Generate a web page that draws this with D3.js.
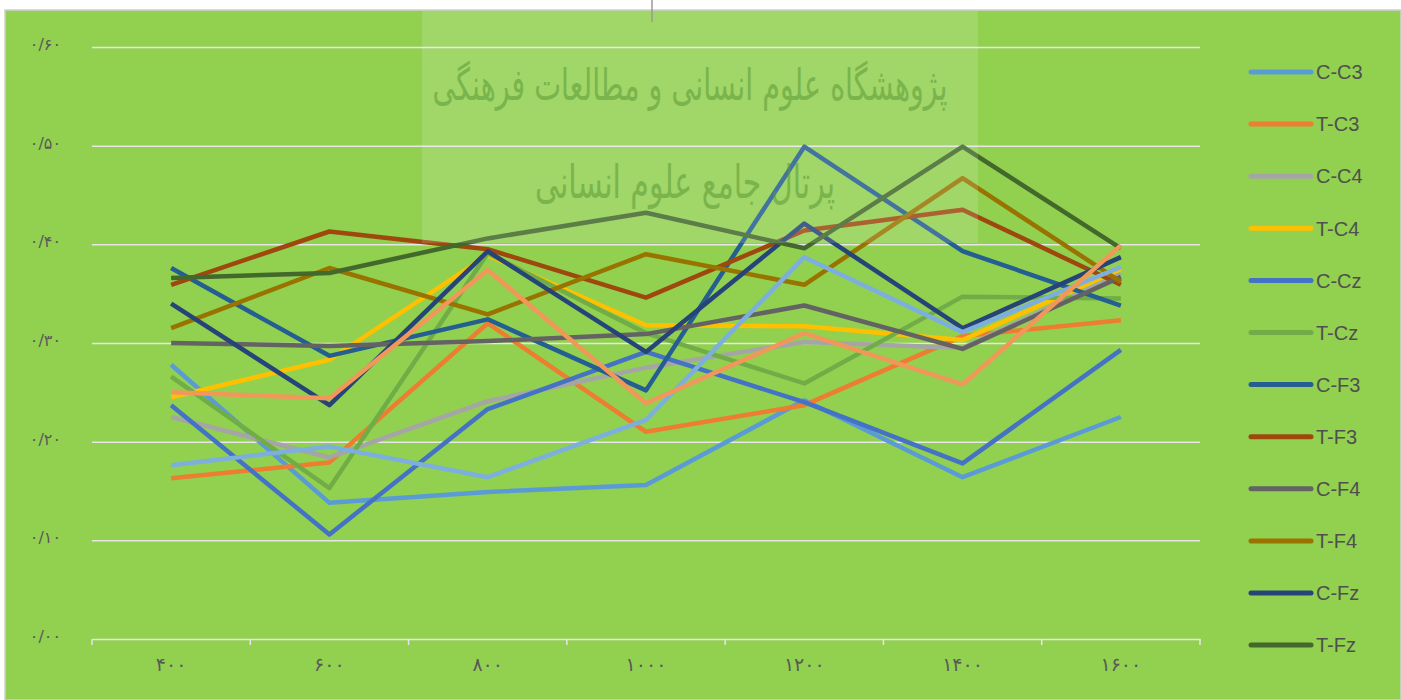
<!DOCTYPE html>
<html><head><meta charset="utf-8">
<script src="https://cdn.jsdelivr.net/npm/d3@7"></script>
<style>body{margin:0;background:#fff;}svg{display:block;}</style>
</head><body>
<svg id="c" width="1401" height="700"></svg>
<script>
const categories = [400, 600, 800, 1000, 1200, 1400, 1600];
const xTickLabels = ["۴۰۰", "۶۰۰", "۸۰۰", "۱۰۰۰", "۱۲۰۰", "۱۴۰۰", "۱۶۰۰"];
const yTicks = [0, 0.1, 0.2, 0.3, 0.4, 0.5, 0.6];
const yTickLabels = ["۰/۰۰", "۰/۱۰", "۰/۲۰", "۰/۳۰", "۰/۴۰", "۰/۵۰", "۰/۶۰"];
const seriesNames = ["C-C3","T-C3","C-C4","T-C4","C-Cz","T-Cz","C-F3","T-F3","C-F4","T-F4","C-Fz","T-Fz","C-Pz","T-Pz"];
const seriesColors = ["#5B9BD5","#ED7D31","#A5A5A5","#FFC000","#4472C4","#70AD47","#255E91","#9E480E","#636363","#997300","#264478","#43682B","#7CAFDD","#F1975A"];
const legendCount = 12;
const cC3 = [0.278, 0.138, 0.149, 0.156, 0.242, 0.164, 0.225];
const tC3 = [0.163, 0.179, 0.320, 0.210, 0.237, 0.307, 0.323];
const cC4 = [0.225, 0.184, 0.241, 0.275, 0.301, 0.295, 0.370];
const tC4 = [0.245, 0.283, 0.389, 0.318, 0.317, 0.303, 0.375];
const cCz = [0.237, 0.106, 0.233, 0.291, 0.240, 0.178, 0.293];
const tCz = [0.266, 0.153, 0.391, 0.310, 0.259, 0.347, 0.345];
const cF3 = [0.376, 0.287, 0.324, 0.252, 0.499, 0.393, 0.338];
const tF3 = [0.359, 0.413, 0.395, 0.346, 0.414, 0.435, 0.359];
const cF4 = [0.300, 0.297, 0.302, 0.309, 0.338, 0.294, 0.367];
const tF4 = [0.315, 0.376, 0.329, 0.390, 0.359, 0.467, 0.362];
const cFz = [0.340, 0.237, 0.393, 0.291, 0.421, 0.315, 0.387];
const tFz = [0.366, 0.371, 0.406, 0.432, 0.396, 0.499, 0.396];
const cPz = [0.176, 0.195, 0.164, 0.222, 0.387, 0.311, 0.377];
const tPz = [0.250, 0.244, 0.374, 0.239, 0.310, 0.258, 0.399];
const seriesValues = [cC3,tC3,cC4,tC4,cCz,tCz,cF3,tF3,cF4,tF4,cFz,tFz,cPz,tPz];

const svg = d3.select("#c");
svg.append("rect").attr("x",5).attr("y",10).attr("width",1396).attr("height",690).attr("fill","#92D050").attr("stroke","#D0D0D0").attr("stroke-width",1.5);

const x = d3.scaleBand().domain(categories).range([92, 1200]).paddingInner(0).paddingOuter(0);
const y = d3.scaleLinear().domain([0, 0.6]).range([639, 47]);
const cx = d => x(d) + x.bandwidth()/2;

const grid = svg.append("g").attr("transform","translate(92,0)")
  .call(d3.axisLeft(y).tickValues(yTicks.slice(1)).tickSize(-1108).tickFormat(""));
grid.select(".domain").remove();
grid.selectAll("line").attr("stroke","#E6E6E6").attr("stroke-width",1.5);

const ya = svg.append("g").attr("transform","translate(64,0)")
  .call(d3.axisLeft(y).tickValues(yTicks).tickSize(0).tickFormat((d,i)=>yTickLabels[i]));
ya.select(".domain").remove();
ya.selectAll("text").attr("fill","#595959").attr("font-family","DejaVu Sans").attr("font-size",16)
  .attr("letter-spacing",2.5).attr("dy","0.15em");

const xa = svg.append("g").attr("transform","translate(0,639)")
  .call(d3.axisBottom(x).tickSize(0).tickFormat((d,i)=>xTickLabels[i]));
xa.select(".domain").attr("stroke","#E6E6E6").attr("stroke-width",1.5);
xa.selectAll("text").attr("fill","#595959").attr("font-family","DejaVu Sans").attr("font-size",19)
  .attr("letter-spacing",4).attr("dy","1.5em");
const bounds = categories.map(c => x(c)).concat([x(categories[categories.length-1]) + x.bandwidth()]);
svg.append("g").selectAll("line").data(bounds).join("line")
  .attr("x1",d=>d).attr("x2",d=>d).attr("y1",639).attr("y2",645)
  .attr("stroke","#E6E6E6").attr("stroke-width",1.5);

const line = d3.line().x((d,i)=>cx(categories[i])).y(d=>y(d));
svg.append("g").selectAll("path").data(seriesValues).join("path")
  .attr("d", d=>line(d)).attr("fill","none")
  .attr("stroke",(d,i)=>seriesColors[i]).attr("stroke-width",4.5)
  .attr("stroke-linejoin","round");

const wm = svg.append("g");
wm.append("rect").attr("x",422).attr("y",11).attr("width",556).attr("height",232).attr("fill","#ffffff").attr("opacity",0.14);
wm.append("line").attr("x1",652).attr("x2",652).attr("y1",0).attr("y2",22).attr("stroke","#9a9a9a").attr("stroke-width",1.5);
wm.append("text").attr("x",690).attr("y",100).attr("text-anchor","middle").attr("direction","rtl")
  .attr("font-family","DejaVu Sans").attr("font-size",44).attr("fill","#5A9A36").attr("opacity",0.55)
  .attr("textLength",515).attr("lengthAdjust","spacingAndGlyphs")
  .text("پژوهشگاه علوم انسانی و مطالعات فرهنگی");
wm.append("text").attr("x",685).attr("y",198).attr("text-anchor","middle").attr("direction","rtl")
  .attr("font-family","DejaVu Sans").attr("font-size",46).attr("fill","#5A9A36").attr("opacity",0.55)
  .attr("textLength",300).attr("lengthAdjust","spacingAndGlyphs")
  .text("پرتال جامع علوم انسانی");

const leg = svg.append("g");
const li = leg.selectAll("g").data(seriesNames.slice(0, legendCount)).join("g")
  .attr("transform",(d,i)=>`translate(1251,${72 + i*52.1})`);
li.append("line").attr("x1",0).attr("x2",60).attr("y1",0).attr("y2",0)
  .attr("stroke",(d,i)=>seriesColors[i]).attr("stroke-width",5).attr("stroke-linecap","round");
li.append("text").attr("x",65).attr("y",0).attr("dy","0.36em").attr("fill","#4F4F4F")
  .attr("font-family","Liberation Sans").attr("font-size",20).text(d=>d);
</script>
</body></html>
